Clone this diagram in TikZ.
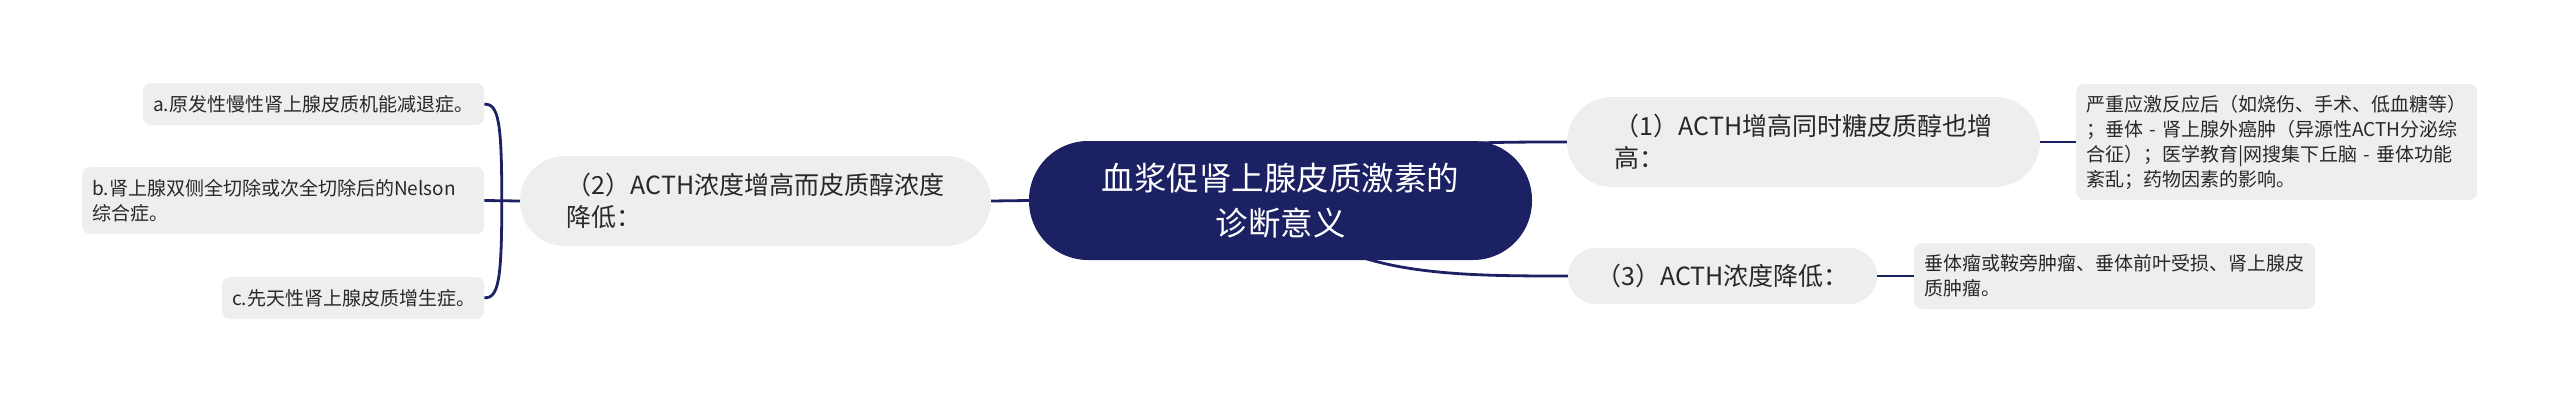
\documentclass[tikz,border=0pt]{standalone}
\usepackage{fontspec}
\setmainfont{Noto Sans CJK SC}
\usetikzlibrary{positioning}
\usetikzlibrary{backgrounds}
\definecolor{rootblue}{RGB}{27,33,98}
\definecolor{boxgray}{RGB}{238,238,238}
\definecolor{textgray}{RGB}{40,40,40}

\begin{document}
\begin{tikzpicture}[x=1pt, y=-1pt,
  every root/.style={fill=rootblue, text=white, align=center, inner sep=0pt,
    rounded corners=59pt, minimum width=503pt, minimum height=119pt,
    font=\fontsize{32.5}{45}\selectfont},
  every topic/.style={fill=boxgray, text=textgray, align=left, inner sep=0pt,
    font=\fontsize{25}{32}\selectfont},
  every leaf/.style={fill=boxgray, text=textgray, align=left, anchor=west,
    rounded corners=8pt, inner xsep=10pt, inner ysep=0pt,
    font=\fontsize{19}{25}\selectfont},
  link/.style={draw=rootblue, line width=2.8pt}]

\useasboundingbox (0,0) rectangle (2560,402);

\node [every root] (root) at (1280.5,200.5) {血浆促肾上腺皮质激素的\\诊断意义};

\foreach \m/\x/\y/\w/\h/\r/\t in {1/1803.5/142/473/90/45/{（1）ACTH增高同时糖皮质醇也增\\高：},
    2/755.5/201/471/90/45/{（2）ACTH浓度增高而皮质醇浓度\\降低：},
    3/1722.5/276/309/56/28/{（3）ACTH浓度降低：}}
  \node [every topic, minimum width=\w pt, minimum height=\h pt, rounded corners=\r pt] (topic-\m) at (\x,\y) {\t};

\foreach \m/\x/\y/\w/\h/\t in {a/143/104/341/42/{a.原发性慢性肾上腺皮质机能减退症。},
    b/82/200.5/402/67/{b.肾上腺双侧全切除或次全切除后的Nelson\\综合症。},
    c/222/298/262/42/{c.先天性肾上腺皮质增生症。}}
{
  \pgfmathsetmacro\tw{\w-20}
  \node [every leaf, minimum width=\w pt, text width=\tw pt, minimum height=\h pt] (left-\m) at (\x,\y) {\t};
}

\node [every leaf, minimum width=401pt, text width=381pt, minimum height=116pt] (right-1) at (2076,142)
  {严重应激反应后（如烧伤、手术、低血糖等）\\；垂体 - 肾上腺外癌肿（异源性ACTH分泌综\\合征）；医学教育|网搜集下丘脑 - 垂体功能\\紊乱；药物因素的影响。};
\node [every leaf, minimum width=401pt, text width=381pt, minimum height=66pt] (right-3) at (1914,276)
  {垂体瘤或鞍旁肿瘤、垂体前叶受损、肾上腺皮\\质肿瘤。};

% root to topics
\draw [link] (topic-2.east) -- (root.west);
\begin{scope}[on background layer]
\draw [link] (root.center) .. controls +(50,-58.5) and +(-117,0) .. (topic-1.west);
\draw [link] (root.center) .. controls +(50,75.5) and +(-117,0) .. (topic-3.west);
\end{scope}

% topics to leaves
\draw [link] (topic-1.east) -- (right-1.west);
\draw [link] (topic-3.east) -- (right-3.west);

\coordinate [left=18pt of topic-2.west] (hub);
\draw [link] (topic-2.west) -- (left-b.east);
\foreach \m/\s in {a/-1,c/1}
  \draw [link] (hub) .. controls +(0,\s*80) and +(14,0) .. (left-\m.east);

\end{tikzpicture}
\end{document}
